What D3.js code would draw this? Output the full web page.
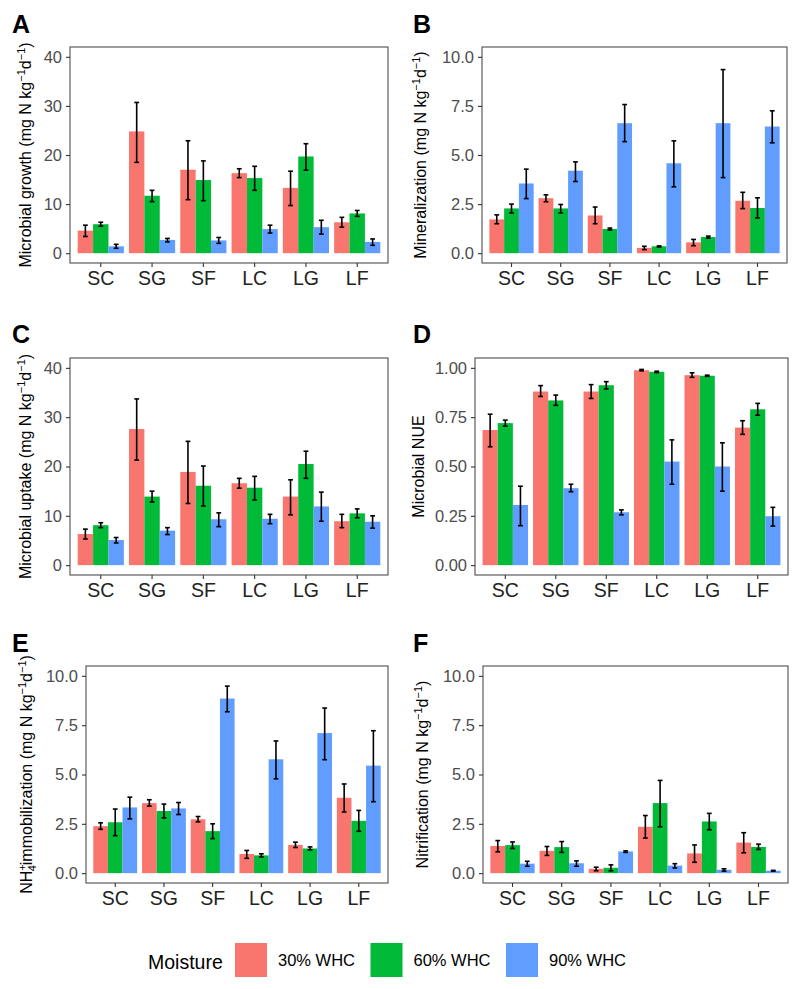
<!DOCTYPE html>
<html><head><meta charset="utf-8">
<script src="https://cdn.jsdelivr.net/npm/d3@7"></script>
<style>body{margin:0;background:#fff}svg{display:block;font-family:"Liberation Sans",Arial,sans-serif}</style>
</head><body>
<svg id="c" width="800" height="989"></svg>
<script>
// ---------- data ----------
const categories = ["SC","SG","SF","LC","LG","LF"];
const moistures = ["30% WHC","60% WHC","90% WHC"];
const colors = ["#F8766D","#00BA38","#619CFF"];

// each row: one category; columns: 30%, 60%, 90% WHC
const growthMean = [[4.6,5.9,1.4],[24.8,11.7,2.7],[17.0,14.9,2.6],[16.3,15.3,4.9],[13.3,19.7,5.3],[6.3,8.1,2.3]];
const growthLo   = [[3.4,5.5,1.0],[18.5,10.5,2.3],[10.9,10.7,2.0],[15.4,12.8,4.1],[9.7,16.9,3.9],[5.3,7.5,1.6]];
const growthHi   = [[5.7,6.3,1.8],[30.7,12.8,3.0],[22.9,18.8,3.2],[17.2,17.7,5.7],[16.7,22.3,6.7],[7.3,8.7,2.9]];

const minerMean = [[1.72,2.28,3.55],[2.80,2.28,4.20],[1.92,1.23,6.62],[0.27,0.35,4.58],[0.55,0.82,6.62],[2.67,2.30,6.45]];
const minerLo   = [[1.50,2.05,2.78],[2.62,2.05,3.65],[1.50,1.18,5.68],[0.18,0.32,3.38],[0.38,0.77,3.85],[2.27,1.80,5.62]];
const minerHi   = [[1.95,2.50,4.28],[2.97,2.48,4.65],[2.35,1.28,7.57],[0.35,0.37,5.72],[0.70,0.87,9.35],[3.10,2.82,7.25]];

const uptakeMean = [[6.3,8.1,5.1],[27.6,13.9,7.0],[18.9,16.1,9.3],[16.6,15.7,9.4],[13.9,20.5,11.9],[8.9,10.5,8.8]];
const uptakeLo   = [[5.3,7.6,4.5],[21.3,12.8,6.2],[12.5,12.0,7.8],[15.6,13.2,8.4],[10.2,17.6,8.9],[7.6,9.6,7.5]];
const uptakeHi   = [[7.3,8.6,5.6],[33.7,15.0,7.6],[25.1,20.1,10.6],[17.6,18.0,10.3],[17.3,23.1,14.8],[10.3,11.4,10.0]];

const nueMean = [[0.685,0.720,0.305],[0.880,0.835,0.390],[0.880,0.912,0.268],[0.988,0.980,0.525],[0.963,0.960,0.500],[0.697,0.790,0.248]];
const nueLo   = [[0.600,0.705,0.200],[0.855,0.810,0.372],[0.845,0.893,0.255],[0.985,0.976,0.410],[0.952,0.957,0.375],[0.663,0.760,0.198]];
const nueHi   = [[0.765,0.735,0.400],[0.910,0.862,0.410],[0.915,0.930,0.280],[0.992,0.983,0.635],[0.975,0.963,0.620],[0.732,0.820,0.293]];

const immobMean = [[2.38,2.58,3.33],[3.55,3.15,3.28],[2.73,2.13,8.85],[0.97,0.90,5.77],[1.43,1.25,7.10],[3.82,2.65,5.45]];
const immobLo   = [[2.22,1.90,2.75],[3.40,2.80,2.97],[2.60,1.75,8.18],[0.75,0.82,4.78],[1.30,1.18,5.75],[3.10,2.12,3.62]];
const immobHi   = [[2.55,3.25,3.85],[3.72,3.50,3.58],[2.87,2.50,9.48],[1.15,0.98,6.70],[1.57,1.33,8.37],[4.52,3.18,7.22]];

const nitrMean = [[1.38,1.42,0.48],[1.13,1.32,0.50],[0.22,0.27,1.10],[2.35,3.55,0.38],[1.00,2.62,0.17],[1.55,1.33,0.12]];
const nitrLo   = [[1.08,1.25,0.35],[0.90,1.05,0.35],[0.12,0.12,1.05],[1.78,2.35,0.26],[0.55,2.20,0.10],[1.03,1.20,0.10]];
const nitrHi   = [[1.65,1.58,0.60],[1.35,1.60,0.62],[0.30,0.42,1.13],[2.92,4.70,0.48],[1.43,3.03,0.22],[2.05,1.47,0.14]];

const ticks40 = [0,10,20,30,40];
const ticks10 = [0,2.5,5,7.5,10];
const ticks1  = [0,0.25,0.5,0.75,1];

// ---------- layout ----------
const panels = [
  {letter:"A", mean:growthMean, lo:growthLo, hi:growthHi, ticks:ticks40, fmt:d3.format("d"),   max:40, title:"Microbial growth",  unit:true,
   box:{l:70,r:388,t:47,b:263}, lx:12, ly:33, tx:31},
  {letter:"B", mean:minerMean, lo:minerLo, hi:minerHi, ticks:ticks10, fmt:d3.format(".1f"), max:10, title:"Mineralization",    unit:true,
   box:{l:482,r:787,t:47,b:263}, lx:413, ly:33, tx:426},
  {letter:"C", mean:uptakeMean, lo:uptakeLo, hi:uptakeHi, ticks:ticks40, fmt:d3.format("d"), max:40, title:"Microbial uptake",  unit:true,
   box:{l:70,r:388,t:358,b:575}, lx:12, ly:343, tx:31},
  {letter:"D", mean:nueMean, lo:nueLo, hi:nueHi, ticks:ticks1, fmt:d3.format(".2f"), max:1, title:"Microbial NUE", unit:false,
   box:{l:475,r:788,t:358,b:575}, lx:413, ly:343, tx:424},
  {letter:"E", mean:immobMean, lo:immobLo, hi:immobHi, ticks:ticks10, fmt:d3.format(".1f"), max:10, title:"NH4", unit:true,
   box:{l:86,r:388,t:666,b:883}, lx:12, ly:652, tx:32},
  {letter:"F", mean:nitrMean, lo:nitrLo, hi:nitrHi, ticks:ticks10, fmt:d3.format(".1f"), max:10, title:"Nitrification", unit:true,
   box:{l:483,r:788,t:666,b:883}, lx:413, ly:652, tx:428}
];

const svg = d3.select("#c");
const frameCol = "#4d4d4d", textCol = "#4d4d4d";

function addUnit(t){
  t.append("tspan").text(" (mg N kg");
  t.append("tspan").attr("dy",-6).attr("font-size",11).text("\u22121");
  t.append("tspan").attr("dy",6).text("d");
  t.append("tspan").attr("dy",-6).attr("font-size",11).text("\u22121");
  t.append("tspan").attr("dy",6).text(")");
}

panels.forEach(p => {
  const b = p.box;
  const g = svg.append("g");
  const x = d3.scaleBand().domain(categories).range([b.l,b.r]).paddingInner(0.1).paddingOuter(0.15);
  const xi = d3.scaleBand().domain(moistures).range([0,x.bandwidth()]);
  const ex = p.max*0.05;
  const y = d3.scaleLinear().domain([-ex, p.max+ex]).range([b.b,b.t]);

  // bars
  categories.forEach((c,ci) => {
    moistures.forEach((m,mi) => {
      const v = p.mean[ci][mi];
      g.append("rect")
        .attr("x", x(c)+xi(m)).attr("width", xi.bandwidth())
        .attr("y", y(v)).attr("height", y(0)-y(v))
        .attr("fill", colors[mi]);
    });
  });
  // error bars
  categories.forEach((c,ci) => {
    moistures.forEach((m,mi) => {
      const cx = x(c)+xi(m)+xi.bandwidth()/2;
      const lo = y(p.lo[ci][mi]), hi = y(p.hi[ci][mi]);
      const eg = g.append("g").attr("stroke","#000").attr("stroke-width",1.6);
      eg.append("line").attr("x1",cx).attr("x2",cx).attr("y1",lo).attr("y2",hi);
      eg.append("line").attr("x1",cx-2.4).attr("x2",cx+2.4).attr("y1",lo).attr("y2",lo);
      eg.append("line").attr("x1",cx-2.4).attr("x2",cx+2.4).attr("y1",hi).attr("y2",hi);
    });
  });
  // frame
  g.append("rect").attr("x",b.l).attr("y",b.t).attr("width",b.r-b.l).attr("height",b.b-b.t)
    .attr("fill","none").attr("stroke",frameCol).attr("stroke-width",1.1);

  // y axis
  const ya = g.append("g").attr("transform",`translate(${b.l},0)`)
    .call(d3.axisLeft(y).tickValues(p.ticks).tickFormat(p.fmt).tickSize(4).tickPadding(4));
  ya.select(".domain").remove();
  ya.selectAll(".tick line").attr("stroke","#333").attr("stroke-width",1.1);
  ya.selectAll(".tick text").attr("fill",textCol).attr("font-size",16.5).attr("font-family","Liberation Sans, Arial, sans-serif");

  // x axis
  const xa = g.append("g").attr("transform",`translate(0,${b.b})`)
    .call(d3.axisBottom(x).tickSize(4).tickPadding(4));
  xa.select(".domain").remove();
  xa.selectAll(".tick line").attr("stroke","#333").attr("stroke-width",1.1);
  xa.selectAll(".tick text").attr("fill","#222").attr("font-size",19.5).attr("font-family","Liberation Sans, Arial, sans-serif");

  // y title
  const cy = (b.t+b.b)/2;
  const t = g.append("text").attr("transform",`translate(${p.tx},${cy}) rotate(-90)`)
    .attr("text-anchor","middle").attr("font-size",16).attr("fill","#000");
  if (p.letter === "E") {
    t.append("tspan").text("NH");
    t.append("tspan").attr("dy",-6).attr("font-size",11).text("+");
    t.append("tspan").attr("dx",-7).attr("dy",10).attr("font-size",11).text("4");
    t.append("tspan").attr("dy",-4).text("immobilization");
  } else {
    t.append("tspan").text(p.title);
  }
  if (p.unit) addUnit(t);

  // panel letter
  svg.append("text").attr("x",p.lx).attr("y",p.ly).attr("font-size",25).attr("font-weight","bold")
    .attr("fill","#000").text(p.letter);
});

// legend
const lg = svg.append("g");
lg.append("text").attr("x",148).attr("y",969).attr("font-size",19.5).attr("fill","#000").text("Moisture");
const keyX = d3.scalePoint().domain(moistures).range([235,506]);
moistures.forEach((m,i) => {
  lg.append("rect").attr("x",keyX(m)).attr("y",943).attr("width",32).attr("height",34).attr("fill",colors[i]);
  lg.append("text").attr("x",keyX(m)+43).attr("y",966).attr("font-size",16.5).attr("fill","#000").text(m);
});
</script>
</body></html>
